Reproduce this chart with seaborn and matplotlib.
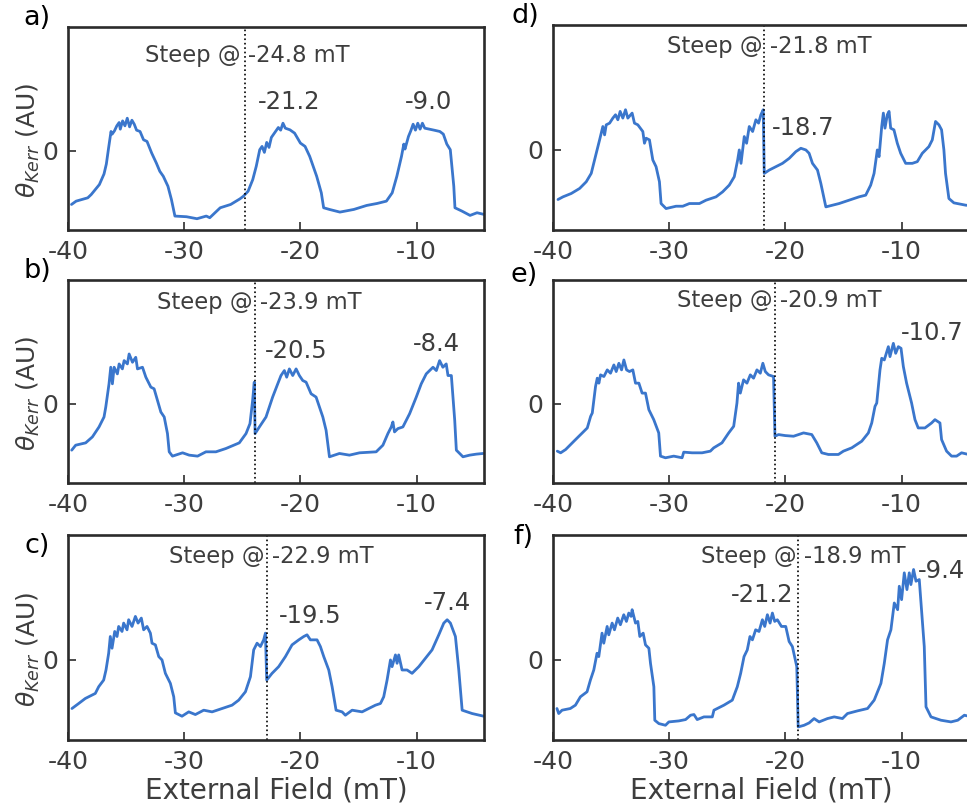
import numpy as np
import pandas as pd
import matplotlib
matplotlib.use("Agg")
import matplotlib.pyplot as plt
import seaborn as sns

# ---------------- data ----------------
xa = [-39.7, -39.3, -38.3, -38.0, -37.3, -36.9, -36.7, -36.5, -36.3, -36.2, -36.0, -35.8, -35.6, -35.5,
      -35.3, -35.1, -34.9, -34.7, -34.5, -34.3, -34.1, -33.8, -33.5, -33.2, -32.8, -32.4, -32.1, -31.8,
      -31.4, -31.1, -30.8, -29.8, -28.9, -28.1, -27.8, -26.9, -26.0, -25.2, -24.9, -24.5, -24.1, -23.8,
      -23.5, -23.3, -23.1, -22.9, -22.7, -22.5, -22.2, -21.9, -21.7, -21.5, -21.3, -20.9, -20.5, -20.0,
      -19.6, -19.2, -18.9, -18.6, -18.2, -18.0, -17.5, -16.6, -15.4, -14.3, -13.4, -12.6, -12.1, -11.7,
      -11.3, -11.1, -11.0, -10.7, -10.5, -10.3, -10.1, -9.9, -9.7, -9.5, -9.3, -8.9, -8.5, -8.0, -7.7,
      -7.4, -7.1, -6.8, -6.7, -6.1, -5.4, -4.8, -4.2]
ya = [-1.62, -1.52, -1.42, -1.32, -1.02, -0.70, -0.40, 0.10, 0.58, 0.50, 0.60, 0.75, 0.85, 0.65,
      0.90, 0.75, 0.98, 0.72, 0.92, 0.80, 0.62, 0.58, 0.33, 0.28, -0.07, -0.37, -0.62, -0.77,
      -1.07, -1.47, -1.97, -1.99, -2.05, -1.97, -2.02, -1.72, -1.62, -1.45, -1.37, -1.22, -0.87, -0.47,
      0.03, 0.13, -0.05, 0.25, 0.10, 0.40, 0.55, 0.70, 0.62, 0.83, 0.68, 0.63, 0.53, 0.23,
      0.13, -0.17, -0.47, -0.77, -1.27, -1.72, -1.77, -1.85, -1.77, -1.65, -1.59, -1.52, -1.27, -0.77,
      -0.17, 0.20, 0.05, 0.43, 0.60, 0.80, 0.62, 0.83, 0.65, 0.83, 0.68, 0.65, 0.62, 0.58, 0.50,
      0.20, 0.03, -1.07, -1.72, -1.82, -1.95, -1.87, -1.92]

xb = [-39.68, -39.34, -38.48, -37.90, -37.33, -36.90, -36.75, -36.47, -36.32, -36.18, -36.03, -35.75,
      -35.60, -35.32, -35.17, -34.89, -34.74, -34.45, -34.17, -34.02, -33.59, -33.30, -32.87, -32.59,
      -32.30, -32.01, -31.72, -31.44, -31.29, -31.01, -30.14, -29.57, -28.85, -28.13, -27.27, -26.41,
      -25.26, -24.68, -24.34, -24.11, -23.97, -23.90, -23.53, -22.96, -22.39, -21.95, -21.67, -21.38,
      -21.18, -20.95, -20.66, -20.37, -20.09, -19.80, -19.51, -19.08, -18.65, -18.36, -18.07, -17.79,
      -17.50, -16.64, -15.78, -14.91, -13.48, -12.90, -12.47, -12.18, -12.04, -11.90, -11.61, -11.18,
      -10.60, -10.03, -9.60, -9.17, -8.88, -8.59, -8.30, -8.02, -7.74, -7.45, -7.30, -7.01, -6.72,
      -6.58, -6.01, -5.43, -4.86, -4.28]
yb = [-1.40, -1.25, -1.18, -1.00, -0.70, -0.40, -0.10, 0.60, 1.10, 0.60, 1.10, 0.90,
      1.20, 1.05, 1.30, 1.20, 1.50, 1.25, 1.40, 1.05, 1.10, 0.80, 0.50, 0.45,
      0.10, -0.25, -0.40, -0.90, -1.45, -1.58, -1.48, -1.55, -1.58, -1.45, -1.45, -1.35,
      -1.18, -0.90, -0.60, 0.10, 0.65, -0.90, -0.70, -0.40, 0.20, 0.60, 0.85, 1.00,
      0.80, 1.05, 0.85, 1.05, 0.85, 0.70, 0.65, 0.30, 0.20, -0.10, -0.40, -0.80,
      -1.60, -1.50, -1.55, -1.48, -1.45, -1.25, -0.90, -0.70, -0.55, -0.85, -0.75, -0.70,
      -0.30, 0.20, 0.60, 0.90, 1.00, 1.10, 1.00, 1.30, 1.10, 1.20, 0.85, 0.85, -0.50,
      -1.40, -1.60, -1.55, -1.52, -1.50]

xc = [-39.66, -39.08, -38.51, -37.65, -37.36, -36.93, -36.73, -36.50, -36.36, -36.21, -35.98, -35.78,
      -35.64, -35.35, -35.21, -34.92, -34.78, -34.49, -34.20, -33.97, -33.69, -33.49, -33.20, -32.91,
      -32.77, -32.48, -32.19, -31.91, -31.62, -31.19, -30.90, -30.76, -30.19, -29.61, -29.04, -28.32,
      -27.60, -26.74, -25.88, -25.31, -24.73, -24.30, -24.02, -23.73, -23.44, -23.16, -23.01, -22.90,
      -22.44, -21.87, -21.29, -20.72, -20.14, -19.71, -19.43, -19.14, -18.57, -18.28, -17.99, -17.56,
      -17.27, -16.93, -16.41, -16.13, -15.55, -14.69, -14.12, -13.54, -13.11, -12.83, -12.54, -12.25,
      -12.11, -11.82, -11.68, -11.54, -11.25, -10.82, -10.39, -9.81, -9.24, -8.67, -8.09, -7.66,
      -7.37, -7.09, -6.66, -6.37, -6.08, -5.22, -4.22]
yc = [-1.45, -1.30, -1.15, -1.00, -0.80, -0.60, -0.30, 0.20, 0.70, 0.35, 0.85, 0.70,
      1.00, 0.85, 1.10, 0.90, 1.20, 1.00, 1.30, 1.10, 1.25, 0.90, 1.00, 0.80,
      0.50, 0.45, 0.10, 0.00, -0.40, -0.70, -1.10, -1.58, -1.68, -1.55, -1.63, -1.50,
      -1.55, -1.45, -1.35, -1.20, -0.95, -0.50, 0.30, 0.50, 0.40, 0.60, 0.80, -0.60,
      -0.40, -0.20, 0.10, 0.45, 0.60, 0.70, 0.75, 0.60, 0.60, 0.40, 0.10, -0.30,
      -0.80, -1.50, -1.55, -1.65, -1.50, -1.55, -1.45, -1.35, -1.30, -1.10, -0.60, 0.00,
      -0.20, 0.15, -0.10, 0.15, -0.30, -0.30, -0.40, -0.20, 0.05, 0.30, 0.75, 1.10,
      1.20, 1.10, 0.70, -0.30, -1.50, -1.60, -1.68]

xd = [-39.57, -39.14, -38.43, -37.71, -37.14, -36.71, -36.28, -35.99, -35.71, -35.56, -35.42, -35.13,
      -34.85, -34.62, -34.42, -34.22, -33.99, -33.76, -33.56, -33.19, -32.99, -32.70, -32.27, -32.13,
      -31.98, -31.70, -31.41, -31.13, -30.84, -30.70, -30.27, -29.41, -28.83, -28.26, -27.40, -26.83,
      -25.97, -25.40, -24.83, -24.40, -24.11, -23.97, -23.82, -23.54, -23.34, -23.11, -22.82, -22.54,
      -22.31, -22.11, -21.91, -21.82, -21.39, -20.82, -20.25, -19.67, -19.10, -18.67, -18.24, -17.96,
      -17.67, -17.24, -16.95, -16.52, -15.95, -15.38, -14.52, -13.66, -13.09, -12.66, -12.37, -12.09,
      -11.94, -11.71, -11.57, -11.43, -11.23, -11.08, -10.94, -10.66, -10.37, -10.08, -9.65, -9.08,
      -8.65, -8.22, -7.65, -7.36, -7.08, -6.79, -6.56, -6.36, -6.22, -5.93, -5.50, -4.47, -4.00]
yd = [-1.48, -1.40, -1.30, -1.15, -0.95, -0.70, -0.10, 0.30, 0.70, 0.45, 0.75, 0.80,
      0.95, 1.05, 0.90, 1.15, 0.95, 1.20, 0.95, 1.10, 0.80, 0.75, 0.55, 0.20,
      0.35, 0.30, -0.30, -0.50, -0.95, -1.60, -1.75, -1.68, -1.68, -1.60, -1.60, -1.50,
      -1.40, -1.25, -1.05, -0.80, -0.30, 0.00, -0.40, 0.40, 0.20, 0.70, 0.55, 0.90,
      0.80, 1.05, 1.20, -0.70, -0.60, -0.50, -0.40, -0.25, -0.05, 0.05, 0.00, -0.10,
      -0.40, -0.60, -1.00, -1.70, -1.65, -1.60, -1.50, -1.40, -1.35, -1.05, -0.70, 0.00,
      -0.20, 0.70, 1.10, 0.65, 1.05, 1.15, 0.65, 0.60, 0.20, -0.10, -0.40, -0.40,
      -0.35, -0.10, 0.10, 0.30, 0.85, 0.75, 0.60, 0.00, -0.70, -1.45, -1.58, -1.65, -1.66]

xe = [-39.63, -39.34, -38.91, -38.20, -37.48, -37.05, -36.76, -36.62, -36.34, -36.19, -36.05, -35.91,
      -35.62, -35.33, -35.05, -34.76, -34.56, -34.33, -34.10, -33.90, -33.67, -33.42, -33.13, -32.90,
      -32.61, -32.33, -32.04, -31.75, -31.33, -30.90, -30.75, -30.32, -29.61, -28.89, -28.75, -28.03,
      -27.17, -26.46, -26.17, -25.46, -24.88, -24.45, -24.17, -24.03, -23.88, -23.60, -23.31, -23.02,
      -22.74, -22.45, -22.16, -21.94, -21.73, -21.45, -21.02, -20.90, -20.59, -20.02, -19.30, -18.44,
      -17.73, -17.30, -16.87, -16.30, -15.44, -15.01, -14.29, -13.43, -12.86, -12.57, -12.29, -12.14,
      -12.00, -11.86, -11.71, -11.49, -11.14, -11.00, -10.71, -10.51, -10.28, -10.05, -9.85, -9.57,
      -9.14, -8.85, -8.57, -7.99, -7.42, -7.13, -6.70, -6.56, -6.13, -5.70, -5.27, -4.84, -4.24, -4.00]
ye = [-1.43, -1.48, -1.38, -1.13, -0.88, -0.73, -0.38, -0.28, 0.52, 0.77, 0.62, 0.87,
      0.82, 1.02, 0.92, 1.17, 0.97, 1.22, 1.02, 1.32, 1.02, 0.97, 1.02, 0.62,
      0.62, 0.32, 0.32, -0.18, -0.48, -0.88, -1.58, -1.63, -1.58, -1.63, -1.46, -1.48,
      -1.48, -1.43, -1.33, -1.18, -0.88, -0.68, 0.02, 0.62, 0.32, 0.72, 0.62, 0.87,
      0.77, 1.02, 0.92, 1.22, 0.97, 0.87, 0.82, -0.98, -0.93, -0.96, -0.98, -0.88,
      -0.93, -1.18, -1.48, -1.53, -1.53, -1.43, -1.33, -1.13, -0.88, -0.58, -0.08, 0.02,
      0.52, 1.02, 1.37, 1.32, 1.72, 1.42, 1.82, 1.52, 1.72, 1.67, 1.12, 0.62,
      0.02, -0.48, -0.73, -0.73, -0.58, -0.48, -0.58, -1.08, -1.43, -1.58, -1.58, -1.48, -1.53, -1.53]

xf = [-39.66, -39.51, -39.22, -38.51, -38.07, -37.64, -37.07, -36.78, -36.49, -36.21, -36.06, -35.78,
      -35.63, -35.34, -35.20, -34.91, -34.71, -34.43, -34.20, -33.91, -33.68, -33.48, -33.28, -33.19,
      -32.90, -32.70, -32.53, -32.24, -32.04, -31.75, -31.61, -31.32, -31.24, -30.89, -30.32, -30.03,
      -29.17, -28.59, -28.16, -27.87, -27.59, -27.01, -26.29, -26.15, -25.29, -24.57, -24.14, -23.85,
      -23.56, -23.28, -23.05, -22.84, -22.56, -22.27, -21.98, -21.78, -21.55, -21.32, -21.12, -20.92,
      -20.69, -20.34, -19.97, -19.68, -19.40, -19.02, -18.90, -18.39, -17.96, -17.53, -17.10, -16.38,
      -15.80, -15.09, -14.66, -13.79, -12.93, -12.36, -11.78, -11.49, -11.21, -10.92, -10.63, -10.34,
      -10.20, -10.00, -9.77, -9.54, -9.34, -9.20, -8.97, -8.76, -8.48, -8.33, -8.05, -7.90, -7.47,
      -6.61, -5.75, -5.17, -4.60, -4.00]
yf = [-1.45, -1.60, -1.50, -1.45, -1.35, -1.10, -0.95, -0.60, -0.30, 0.20, 0.10, 0.80,
      0.50, 1.00, 0.75, 1.10, 0.90, 1.25, 1.05, 1.35, 1.15, 1.40, 1.30, 1.50,
      1.10, 1.15, 0.70, 0.80, 0.45, 0.35, -0.10, -0.80, -1.80, -1.90, -1.95, -1.85,
      -1.82, -1.78, -1.65, -1.63, -1.78, -1.70, -1.70, -1.50, -1.35, -1.20, -0.80, -0.40,
      0.10, 0.30, 0.70, 0.60, 0.90, 0.85, 1.20, 1.00, 1.35, 1.10, 1.40, 1.15,
      1.20, 1.00, 1.00, 0.55, 0.40, -0.20, -2.00, -1.95, -1.88, -1.75, -1.85, -1.75,
      -1.70, -1.75, -1.60, -1.52, -1.45, -1.20, -0.70, -0.10, 0.60, 0.90, 1.70, 1.50,
      2.20, 1.80, 2.60, 2.10, 2.60, 2.25, 2.70, 2.35, 2.40, 1.70, 0.40, -1.40, -1.70,
      -1.80, -1.85, -1.80, -1.65, -1.70]

panel_names = ["a)", "b)", "c)", "d)", "e)", "f)"]
steep_fields = [-24.8, -23.9, -22.9, -21.8, -20.9, -18.9]
peak_labels = [["-21.2", "-9.0"], ["-20.5", "-8.4"], ["-19.5", "-7.4"],
               ["-18.7"], ["-10.7"], ["-21.2", "-9.4"]]
xtick_values = [-40, -30, -20, -10]

series_x = [xa, xb, xc, xd, xe, xf]
series_y = [ya, yb, yc, yd, ye, yf]

# ---------------- layout / styling ----------------
steep_text_pos = [(-24.55, 2.88), (-23.5, 3.05), (-22.5, 3.10),
                  (-21.35, 3.10), (-20.5, 3.12), (-18.5, 3.10)]
peak_text_pos = [[(-20.95, 1.48), (-8.94, 1.48)],
                 [(-20.4, 1.60), (-8.3, 1.80)],
                 [(-19.2, 1.32), (-7.3, 1.70)],
                 [(-18.5, 0.65)],
                 [(-7.4, 2.12)],
                 [(-22.0, 1.95), (-6.55, 2.65)]]

W, H = 967, 810
left_x = [68, 68, 68, 553, 553, 553]
top_y = [27, 280, 535, 25, 280, 535]
bot_y = [230, 483, 740, 230, 483, 740]
ax_w = 416
label_xy = [(37, 18), (37, 271), (37, 546), (525, 16), (524, 275), (523, 537)]

sns.set_theme(style="ticks")
plt.rcParams["font.family"] = ["DejaVu Sans"]
text_col = "#3d3d3d"
line_col = "#3a76cc"

fig = plt.figure(figsize=(W / 100, H / 100), dpi=100)

for i in range(6):
    rect = [left_x[i] / W, 1 - bot_y[i] / H, ax_w / W, (bot_y[i] - top_y[i]) / H]
    ax = fig.add_axes(rect)
    df = pd.DataFrame({"field": series_x[i], "kerr": series_y[i]})
    sns.lineplot(data=df, x="field", y="kerr", ax=ax, color=line_col, lw=2.0,
                 estimator=None, sort=False)
    ax.set_xlim(-40, -4.2)
    ax.set_ylim(-2.39, 3.73)
    ax.axvline(steep_fields[i], color="black", ls=":", lw=1.2)
    ax.set_xticks(xtick_values)
    ax.set_xticklabels([str(v) for v in xtick_values])
    ax.set_yticks([0])
    ax.set_yticklabels(["0"])
    ax.tick_params(direction="in", length=6, width=1.3, labelsize=18,
                   colors=text_col, pad=7)
    for sp in ax.spines.values():
        sp.set_linewidth(1.9)
        sp.set_color("#2b2b2b")
        sp.set_visible(True)
    sx, sy = steep_text_pos[i]
    ax.text(sx, sy, f"Steep @ {steep_fields[i]} mT", ha="center", va="center",
            fontsize=16.3, color=text_col)
    for lab, (px, py) in zip(peak_labels[i], peak_text_pos[i]):
        ax.text(px, py, lab, ha="center", va="center", fontsize=17.5, color=text_col)
    if i < 3:
        ax.set_ylabel(r"$\theta_{Kerr}$ (AU)", fontsize=18, color=text_col)
        ax.yaxis.set_label_coords(-0.062, 0.44)
    else:
        ax.set_ylabel("")
    if i in (2, 5):
        ax.set_xlabel("External Field (mT)", fontsize=20, color=text_col, labelpad=2)
    else:
        ax.set_xlabel("")
    lx, ly = label_xy[i]
    fig.text(lx / W, 1 - ly / H, panel_names[i], ha="center", va="center",
             fontsize=19.5, color="black")

fig.savefig("out.png", dpi=100)
